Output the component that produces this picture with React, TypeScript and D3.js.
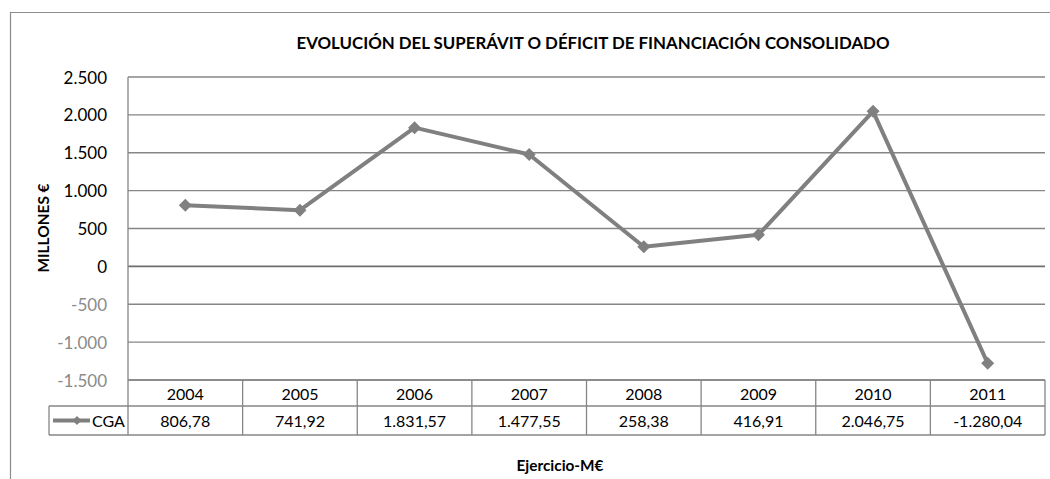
import React from "react";
import * as d3 from "d3";

const years = ["2004", "2005", "2006", "2007", "2008", "2009", "2010", "2011"];
const cgaValues = [806.78, 741.92, 1831.57, 1477.55, 258.38, 416.91, 2046.75, -1280.04];
const yTicks = [2500, 2000, 1500, 1000, 500, 0, -500, -1000, -1500];
const seriesName = "CGA";
const title = "EVOLUCIÓN DEL SUPERÁVIT O DÉFICIT DE FINANCIACIÓN CONSOLIDADO";
const yTitle = "MILLONES €";
const xTitle = "Ejercicio-M€";

const W = 1050;
const H = 479;
const plot = { left: 128, right: 1045, top: 77, bottom: 380 };
const headerH = 26;
const rowH = 29;
const legendLeft = 49;
const FONT = "Lato, 'Open Sans', sans-serif";
const GRID = "#868686";
const LINE = "#808080";

const es = d3.formatLocale({
  decimal: ",",
  thousands: ".",
  grouping: [3],
  currency: ["", "€"],
  minus: "-",
});
const fmtTick = es.format(",.0f");
const fmtVal = es.format(",.2f");

function diamond(cx: number, cy: number, r: number) {
  return `M${cx},${cy - r}L${cx + r},${cy}L${cx},${cy + r}L${cx - r},${cy}Z`;
}

export default function App() {
  const x = d3.scaleBand<string>().domain(years).range([plot.left, plot.right]).padding(0);
  const y = d3.scaleLinear().domain([-1500, 2500]).range([plot.bottom, plot.top]);
  const cx = (yr: string) => (x(yr) as number) + x.bandwidth() / 2;

  const line = d3
    .line<number>()
    .x((_, i) => cx(years[i]))
    .y((d) => y(d));

  const tableTop = plot.bottom;
  const rowMid = tableTop + headerH;
  const tableBottom = rowMid + rowH;

  return (
    <svg
      width={W}
      height={H}
      style={{ position: "absolute", left: 0, top: 0, background: "#fff" }}
      fontFamily={FONT}
    >
      <rect x={0} y={0} width={W} height={H} fill="#fff" />
      {/* outer chart border */}
      <path d={`M10.5,${H}V12.5H${W}`} fill="none" stroke="#8c8c8c" strokeWidth={1.2} />

      {/* title */}
      <text
        x={593}
        y={49}
        textAnchor="middle"
        fontSize={17.5}
        fontWeight="bold"
        fill="#000"
        textLength={593}
        lengthAdjust="spacingAndGlyphs"
      >
        {title}
      </text>

      {/* gridlines */}
      {yTicks.map((t) => (
        <line
          key={t}
          x1={plot.left}
          x2={plot.right}
          y1={y(t)}
          y2={y(t)}
          stroke={t === 0 ? "#6e6e6e" : GRID}
          strokeWidth={t === 0 ? 1.6 : 1.3}
        />
      ))}
      {/* left axis */}
      <line x1={plot.left} x2={plot.left} y1={plot.top} y2={tableBottom} stroke={GRID} strokeWidth={1.3} />

      {/* y tick labels */}
      {yTicks.map((t) => (
        <text
          key={"l" + t}
          x={107}
          y={y(t) + 6.5}
          textAnchor="end"
          fontSize={17}
          fill={t < 0 ? "#8a8a8a" : "#000"}
        >
          {fmtTick(t)}
        </text>
      ))}

      {/* y axis title */}
      <text
        transform={`translate(49,228) rotate(-90)`}
        textAnchor="middle"
        fontSize={15.5}
        fontWeight="bold"
        fill="#000"
        textLength={89}
        lengthAdjust="spacingAndGlyphs"
      >
        {yTitle}
      </text>

      {/* data table */}
      <g stroke={GRID} strokeWidth={1.3} fill="none">
        <line x1={plot.left} x2={plot.right} y1={tableTop} y2={tableTop} />
        <line x1={legendLeft} x2={plot.right} y1={rowMid} y2={rowMid} />
        <line x1={legendLeft} x2={plot.right} y1={tableBottom} y2={tableBottom} />
        <line x1={legendLeft} x2={legendLeft} y1={rowMid} y2={tableBottom} />
        {years.map((yr) => (
          <line
            key={"v" + yr}
            x1={(x(yr) as number) + x.bandwidth()}
            x2={(x(yr) as number) + x.bandwidth()}
            y1={tableTop}
            y2={tableBottom}
          />
        ))}
      </g>
      {years.map((yr, i) => (
        <g key={"t" + yr}>
          <text x={cx(yr)} y={tableTop + 19.5} textAnchor="middle" fontSize={16} fill="#000">
            {yr}
          </text>
          <text x={cx(yr)} y={rowMid + 20.5} textAnchor="middle" fontSize={16} fill="#000">
            {fmtVal(cgaValues[i])}
          </text>
        </g>
      ))}
      {/* legend key */}
      <line x1={53} x2={90} y1={rowMid + rowH / 2} y2={rowMid + rowH / 2} stroke={LINE} strokeWidth={4} />
      <path d={diamond(77, rowMid + rowH / 2, 4.5)} fill={LINE} />
      <text x={92} y={rowMid + 20.5} fontSize={16} fill="#000">
        {seriesName}
      </text>

      {/* x axis title */}
      <text
        x={560}
        y={471}
        textAnchor="middle"
        fontSize={16}
        fontWeight="bold"
        fill="#000"
        textLength={87}
        lengthAdjust="spacingAndGlyphs"
      >
        {xTitle}
      </text>

      {/* series */}
      <path d={line(cgaValues) || ""} fill="none" stroke={LINE} strokeWidth={4} strokeLinejoin="round" />
      {cgaValues.map((v, i) => (
        <path key={"m" + i} d={diamond(cx(years[i]), y(v), 6.5)} fill={LINE} />
      ))}
    </svg>
  );
}
